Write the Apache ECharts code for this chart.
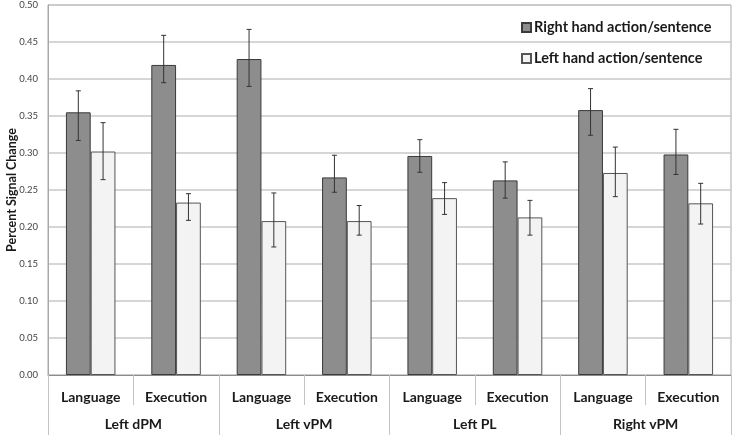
<!DOCTYPE html>
<html>
<head>
<meta charset="utf-8">
<script src="https://cdn.jsdelivr.net/npm/echarts@6/dist/echarts.min.js"></script>
<style>
  html, body { margin: 0; padding: 0; background: #fff; }
  #main { width: 737px; height: 441px; }
</style>
</head>
<body>
<div id="main"></div>
<script>
const categories = ['Language', 'Execution', 'Language', 'Execution', 'Language', 'Execution', 'Language', 'Execution'];
const regions = ['Left dPM', 'Left vPM', 'Left PL', 'Right vPM'];
const yTicks = [0, 0.05, 0.1, 0.15, 0.2, 0.25, 0.3, 0.35, 0.4, 0.45, 0.5];

const rightMean = [0.355, 0.419, 0.427, 0.267, 0.296, 0.263, 0.358, 0.298];
const rightLow  = [0.317, 0.395, 0.390, 0.247, 0.274, 0.239, 0.324, 0.271];
const rightHigh = [0.384, 0.459, 0.467, 0.297, 0.318, 0.288, 0.387, 0.332];

const leftMean = [0.302, 0.233, 0.208, 0.208, 0.239, 0.213, 0.273, 0.232];
const leftLow  = [0.264, 0.209, 0.173, 0.189, 0.217, 0.189, 0.241, 0.204];
const leftHigh = [0.341, 0.245, 0.246, 0.229, 0.260, 0.236, 0.308, 0.259];

const font = 'Lato';
const barShare = 0.29;

// error bars drawn in axis coordinates, shifted onto the matching bar
function errorBars(sign) {
  return function (params, api) {
    const idx = api.value(0);
    const w = api.size([1, 0])[0];
    const x = api.coord([idx, 0])[0] + sign * w * barShare / 2;
    const lo = api.coord([idx, api.value(1)])[1];
    const hi = api.coord([idx, api.value(2)])[1];
    const cap = 2.5;
    const style = { stroke: '#333', lineWidth: 1 };
    return {
      type: 'group',
      children: [
        { type: 'line', shape: { x1: x, y1: lo, x2: x, y2: hi }, style: style },
        { type: 'line', shape: { x1: x - cap, y1: hi, x2: x + cap, y2: hi }, style: style },
        { type: 'line', shape: { x1: x - cap, y1: lo, x2: x + cap, y2: lo }, style: style }
      ]
    };
  };
}

var myChart = echarts.init(document.getElementById('main'));
var option;

option = {
  animation: false,
  textStyle: { fontFamily: font },
  grid: {
    left: 48, right: 6, top: 5, bottom: 66,
    outerBoundsMode: 'none',
    containLabel: false,
    show: true, borderColor: '#a8a8a8', borderWidth: 1
  },
  legend: {
    orient: 'vertical',
    left: 516, top: 14,
    icon: 'rect',
    itemWidth: 9, itemHeight: 9,
    itemGap: 14,
    data: ['Right hand action/sentence', 'Left hand action/sentence'],
    textStyle: { fontFamily: font, fontWeight: 'bold', fontSize: 14.5, color: '#1a1a1a', lineHeight: 17, padding: [0, 0, 0, -2] }
  },
  xAxis: [
    {
      type: 'category',
      data: categories,
      boundaryGap: true,
      axisLine: { show: true, lineStyle: { color: '#8c8c8c', width: 1 } },
      axisTick: { show: true, alignWithLabel: false, interval: 0, length: 30, lineStyle: { color: '#c4c4c4', width: 1 } },
      axisLabel: { interval: 0, margin: 15, fontFamily: font, fontWeight: 'bold', fontSize: 14, color: '#1a1a1a' }
    },
    {
      type: 'category',
      data: regions,
      boundaryGap: true,
      position: 'bottom',
      axisLine: { show: false },
      axisTick: { show: true, alignWithLabel: false, interval: 0, length: 60, lineStyle: { color: '#c4c4c4', width: 1 } },
      axisLabel: { interval: 0, margin: 42, fontFamily: font, fontWeight: 'bold', fontSize: 14, color: '#1a1a1a' }
    }
  ],
  yAxis: {
    type: 'value',
    min: yTicks[0],
    max: yTicks[yTicks.length - 1],
    interval: 0.05,
    name: 'Percent Signal Change',
    nameLocation: 'middle',
    nameGap: 30,
    nameMoveOverlap: false,
    nameTextStyle: { fontFamily: font, fontWeight: 'bold', fontSize: 12.5, color: '#1a1a1a' },
    axisLine: { show: true, lineStyle: { color: '#a8a8a8' } },
    axisTick: { show: false },
    axisLabel: { margin: 10, fontSize: 9.5, color: '#444', formatter: v => v.toFixed(2) },
    splitLine: { lineStyle: { color: '#c8c8c8', width: 1.5 } }
  },
  series: [
    {
      name: 'Right hand action/sentence',
      type: 'bar',
      data: rightMean,
      barWidth: (barShare * 100) + '%',
      barGap: '0%',
      itemStyle: { color: '#8d8d8d', borderColor: '#3a3a3a', borderWidth: 1 }
    },
    {
      name: 'Left hand action/sentence',
      type: 'bar',
      data: leftMean,
      barWidth: (barShare * 100) + '%',
      barGap: '0%',
      itemStyle: { color: '#f3f3f3', borderColor: '#555', borderWidth: 1 }
    },
    {
      type: 'custom',
      renderItem: errorBars(-1),
      data: rightMean.map((m, i) => [i, rightLow[i], rightHigh[i]]),
      z: 5
    },
    {
      type: 'custom',
      renderItem: errorBars(1),
      data: leftMean.map((m, i) => [i, leftLow[i], leftHigh[i]]),
      z: 5
    }
  ]
};

option && myChart.setOption(option);
</script>
</body>
</html>
